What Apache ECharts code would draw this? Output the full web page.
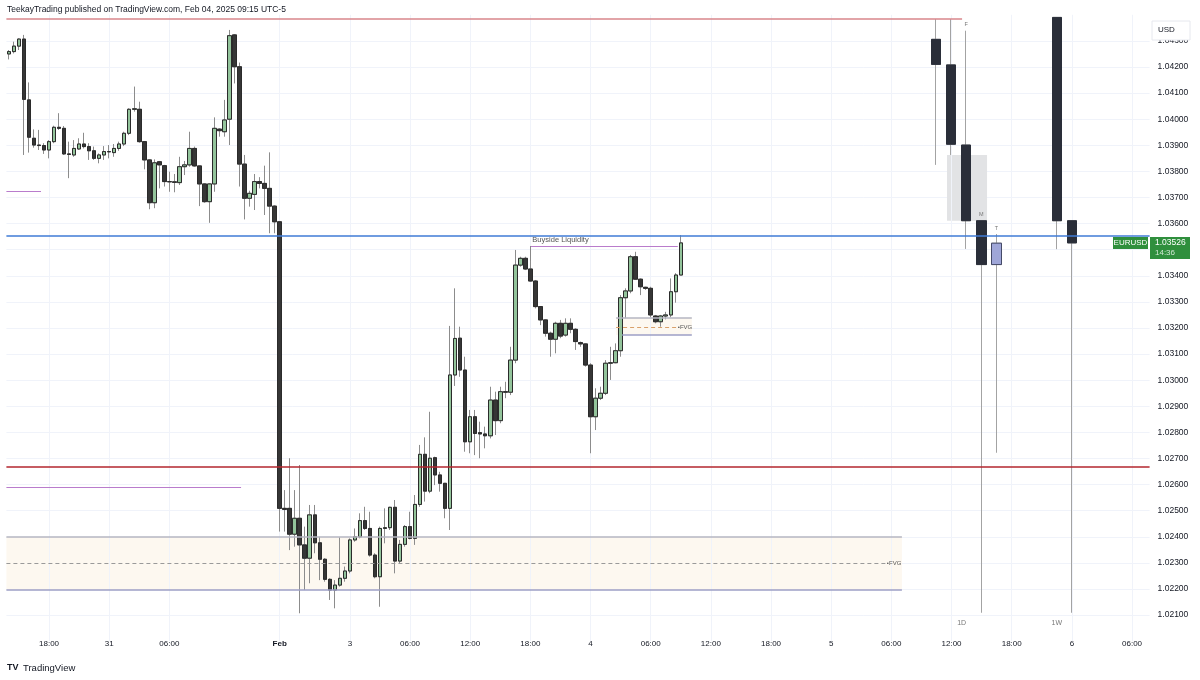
<!DOCTYPE html>
<html>
<head>
<meta charset="utf-8">
<title>EURUSD 30m</title>
<script src="https://cdn.jsdelivr.net/npm/echarts@6/dist/echarts.min.js"></script>
<style>
  html, body { margin: 0; padding: 0; background: #fff; }
  #chart { width: 1200px; height: 680px; }
</style>
</head>
<body>
<div id="chart"></div>
<script>
// 30 minute EURUSD candles, Jan 30 14:00 -> Feb 4 09:00 (UTC-5), [open, close, low, high]
var candles = [
  [1.04250,1.04259,1.04229,1.04265],[1.04259,1.04280,1.04252,1.04297],[1.04280,1.04307,1.04265,1.04310],
  [1.04307,1.04076,1.03863,1.04323],[1.04074,1.03931,1.03872,1.04141],[1.03927,1.03901,1.03891,1.03961],
  [1.03901,1.03899,1.03882,1.03959],[1.03899,1.03882,1.03867,1.03908],[1.03882,1.03914,1.03850,1.03920],
  [1.03914,1.03969,1.03908,1.03975],[1.03969,1.03965,1.03959,1.04023],[1.03965,1.03867,1.03863,1.03974],
  [1.03867,1.03865,1.03774,1.03914],[1.03863,1.03888,1.03856,1.03920],[1.03886,1.03905,1.03882,1.03927],
  [1.03905,1.03895,1.03888,1.03948],[1.03895,1.03879,1.03844,1.03908],[1.03879,1.03850,1.03844,1.03895],
  [1.03850,1.03863,1.03831,1.03869],[1.03863,1.03876,1.03844,1.03897],[1.03876,1.03875,1.03850,1.03901],
  [1.03872,1.03888,1.03856,1.03905],[1.03888,1.03905,1.03879,1.03914],[1.03905,1.03946,1.03897,1.03952],
  [1.03946,1.04038,1.03939,1.04042],[1.04038,1.04040,1.04029,1.04125],[1.04038,1.03914,1.03910,1.04067],
  [1.03914,1.03844,1.03808,1.03914],[1.03844,1.03680,1.03655,1.03846],[1.03680,1.03833,1.03659,1.03846],
  [1.03837,1.03825,1.03735,1.03840],[1.03822,1.03761,1.03742,1.03825],[1.03761,1.03760,1.03722,1.03799],
  [1.03760,1.03758,1.03720,1.03790],[1.03757,1.03818,1.03748,1.03856],[1.03818,1.03825,1.03786,1.03840],
  [1.03825,1.03888,1.03818,1.03952],[1.03888,1.03821,1.03818,1.03895],[1.03821,1.03752,1.03667,1.03822],
  [1.03752,1.03684,1.03680,1.03754],[1.03684,1.03752,1.03603,1.03754],[1.03752,1.03965,1.03722,1.04007],
  [1.03962,1.03956,1.03933,1.03965],[1.03952,1.03997,1.03933,1.04074],[1.04000,1.04320,1.03901,1.04342],
  [1.04323,1.04201,1.04137,1.04326],[1.04201,1.03828,1.03742,1.04217],[1.03828,1.03697,1.03616,1.03863],
  [1.03697,1.03716,1.03665,1.03726],[1.03712,1.03761,1.03652,1.03790],[1.03761,1.03754,1.03735,1.03778],
  [1.03754,1.03735,1.03633,1.03822],[1.03735,1.03667,1.03563,1.03873],[1.03667,1.03607,1.03563,1.03670],
  // Sunday open, Feb 2 17:00
  [1.03607,1.02509,1.02420,1.03610],[1.02509,1.02505,1.02420,1.02579],[1.02509,1.02410,1.02349,1.02701],
  [1.02410,1.02471,1.02362,1.02579],[1.02471,1.02369,1.02107,1.02675],[1.02369,1.02318,1.02196,1.02439],
  [1.02318,1.02484,1.02222,1.02522],[1.02484,1.02377,1.02337,1.02522],[1.02377,1.02314,1.02234,1.02400],
  [1.02314,1.02237,1.02228,1.02318],[1.02237,1.02196,1.02158,1.02241],[1.02196,1.02215,1.02126,1.02234],
  [1.02215,1.02241,1.02209,1.02398],[1.02241,1.02269,1.02228,1.02286],[1.02269,1.02388,1.02260,1.02394],
  [1.02388,1.02400,1.02381,1.02432],[1.02400,1.02462,1.02394,1.02490],[1.02462,1.02432,1.02426,1.02515],
  [1.02432,1.02330,1.02324,1.02496],[1.02330,1.02247,1.02241,1.02337],[1.02247,1.02432,1.02132,1.02439],
  [1.02432,1.02435,1.02375,1.02509],[1.02435,1.02513,1.02426,1.02515],[1.02513,1.02307,1.02260,1.02541],
  [1.02307,1.02371,1.02298,1.02388],[1.02371,1.02439,1.02362,1.02445],[1.02439,1.02394,1.02390,1.02496],
  [1.02394,1.02524,1.02369,1.02560],[1.02524,1.02716,1.02515,1.02752],[1.02716,1.02575,1.02535,1.02781],
  [1.02575,1.02701,1.02567,1.02879],[1.02703,1.02637,1.02598,1.02707],[1.02637,1.02605,1.02573,1.02649],
  [1.02605,1.02509,1.02471,1.02605],[1.02509,1.03020,1.02426,1.03208],[1.03020,1.03160,1.02978,1.03352],
  [1.03161,1.03039,1.03013,1.03205],[1.03039,1.02764,1.02726,1.03090],[1.02764,1.02860,1.02720,1.02886],
  [1.02860,1.02796,1.02713,1.02886],[1.02799,1.02794,1.02701,1.02841],[1.02794,1.02787,1.02739,1.02822],
  [1.02787,1.02924,1.02777,1.02975],[1.02924,1.02845,1.02790,1.02956],[1.02845,1.02956,1.02835,1.02975],
  [1.02956,1.02954,1.02931,1.02994],[1.02954,1.03077,1.02943,1.03128],[1.03077,1.03441,1.03065,1.03499],
  [1.03441,1.03467,1.03435,1.03473],[1.03467,1.03426,1.03422,1.03473],[1.03426,1.03380,1.03377,1.03453],
  [1.03380,1.03282,1.03275,1.03384],[1.03282,1.03231,1.03211,1.03284],[1.03231,1.03180,1.03167,1.03233],
  [1.03180,1.03157,1.03090,1.03186],[1.03157,1.03218,1.03103,1.03224],[1.03218,1.03169,1.03161,1.03231],
  [1.03173,1.03218,1.03167,1.03237],[1.03218,1.03195,1.03180,1.03237],[1.03195,1.03148,1.03116,1.03199],
  [1.03144,1.03139,1.03128,1.03148],[1.03139,1.03058,1.03052,1.03141],[1.03058,1.02860,1.02720,1.03065],
  [1.02860,1.02931,1.02809,1.02969],[1.02931,1.02950,1.02924,1.02975],[1.02950,1.03065,1.02943,1.03077],
  [1.03065,1.03067,1.03001,1.03128],[1.03067,1.03113,1.03065,1.03141],[1.03113,1.03316,1.03090,1.03326],
  [1.03316,1.03342,1.03237,1.03352],[1.03342,1.03473,1.03333,1.03480],[1.03473,1.03387,1.03384,1.03492],
  [1.03387,1.03358,1.03326,1.03390],[1.03356,1.03352,1.03346,1.03358],[1.03352,1.03250,1.03241,1.03358],
  [1.03246,1.03224,1.03218,1.03250],[1.03224,1.03246,1.03205,1.03250],[1.03246,1.03250,1.03233,1.03262],
  [1.03250,1.03339,1.03241,1.03390],[1.03339,1.03403,1.03297,1.03410],[1.03403,1.03526,1.03403,1.03556]
];

var slotCount = 228; // 30 minute slots incl. empty future space
var timeLabels = [[8,'18:00'],[20,'31'],[32,'06:00'],[54,'Feb'],[68,'3'],[80,'06:00'],[92,'12:00'],
  [104,'18:00'],[116,'4'],[128,'06:00'],[140,'12:00'],[152,'18:00'],[164,'5'],[176,'06:00'],
  [188,'12:00'],[200,'18:00'],[212,'6'],[224,'06:00']];

var priceMin = 1.020, priceMax = 1.044, priceStep = 0.001;
var lastPrice = 1.03526;
var countdown = '14:36';

// higher timeframe candles drawn on the right (5 daily, 2 weekly), [open, close, low, high]
var htfCandles = [
  [1.04306,1.04210,1.03825,1.04384],[1.04208,1.03904,1.03863,1.04384],[1.03901,1.03611,1.03503,1.04339],
  [1.03611,1.03443,1.02109,1.03611],[1.03443,1.03525,1.02722,1.03560],
  '-', '-', '-',
  [1.04390,1.03611,1.03502,1.04390],[1.03611,1.03526,1.02109,1.03611]
];
var htfDayLabels = [[2,'F'],[3,'M'],[4,'T']];
var htfGroupLabels = [[2.2,'1D'],[8.5,'1W']];
var htfGap = [1.23, 3.88, 1.03611, 1.03863];

// horizontal levels [price, fromSlot, toSlot]
var levelTopRed = [1.04384, 0, 190.6];
var levelBlue = [1.03553, 0, 228];
var levelRed = [1.02667, 0, 228];
var levelPurpleA = [1.03725, 0, 6.9];
var levelPurpleB = [1.02591, 0, 46.8];
var buyside = [1.03514, 104.5, 133.9, 1.03453];

// fair value gaps [top, bottom, mid, fromSlot, toSlot, midEnd]
var fvgBig = [1.02399, 1.02196, 1.02300, 0, 178.6, 175.4];
var fvgSmall = [1.03238, 1.03173, 1.03204, 121.6, 136.7, 133.7];

var font = 'Liberation Sans, Arial, sans-serif';

var slotNames = [];
var labelMap = {};
for (var i = 0; i < slotCount; i++) slotNames.push('s' + i);
timeLabels.forEach(function (t) { labelMap[t[0]] = t[1]; });
var htfNames = ['d0','d1','d2','d3','d4','d5','d6','d7','w0','w1'];

var bodies = candles.map(function (c) {
  return [c[0], c[1], Math.min(c[0], c[1]), Math.max(c[0], c[1])];
});
var htfBodies = htfCandles.map(function (c) {
  return c === '-' ? '-' : [c[0], c[1], Math.min(c[0], c[1]), Math.max(c[0], c[1])];
});

function seg(x1, x2, y, style, label) {
  return [{ coord: [x1, y], lineStyle: style, label: label || { show: false } }, { coord: [x2, y] }];
}

var gridLines = timeLabels.map(function (t) { return { xAxis: t[0] + 0.5 }; });

var thinPurple = { color: '#b97ccc', width: 1.2, type: 'solid' };
var boxTop = { color: '#b4b6c2', width: 1.5, type: 'solid' };
var boxBottom = { color: '#9c9fc6', width: 1.5, type: 'solid' };
var fvgLabel = { show: true, position: 'end', formatter: '•FVG', fontSize: 6, color: '#555', distance: 1, fontFamily: font };

var overlayLines = [
  seg(levelTopRed[1], levelTopRed[2], levelTopRed[0], { color: '#d9868b', width: 1.5, type: 'solid' }),
  seg(levelBlue[1], levelBlue[2], levelBlue[0], { color: '#3f7bd6', width: 1.5, type: 'solid' }),
  seg(levelRed[1], levelRed[2], levelRed[0], { color: '#b3262e', width: 1.5, type: 'solid' }),
  seg(levelPurpleA[1], levelPurpleA[2], levelPurpleA[0], thinPurple),
  seg(levelPurpleB[1], levelPurpleB[2], levelPurpleB[0], thinPurple),
  seg(buyside[1], buyside[2], buyside[0], thinPurple,
    { show: true, position: 'insideStartTop', formatter: 'Buyside Liquidity', fontSize: 7.5, color: '#555', distance: 2, fontFamily: font }),
  [{ coord: [buyside[1], buyside[0]], lineStyle: { color: '#888', width: 1, type: 'solid' }, label: { show: false } },
   { coord: [buyside[1], buyside[3]] }],
  seg(fvgBig[3], fvgBig[4], fvgBig[0], boxTop),
  seg(fvgBig[3], fvgBig[4], fvgBig[1], boxBottom),
  seg(fvgBig[3], fvgBig[5], fvgBig[2], { color: '#9a9a9a', width: 1, type: [4, 3] }, fvgLabel),
  seg(fvgSmall[3], fvgSmall[4], fvgSmall[0], boxTop),
  seg(fvgSmall[3] + 1.2, fvgSmall[4], fvgSmall[1], boxBottom),
  seg(fvgSmall[3], fvgSmall[5], fvgSmall[2], { color: '#d9a06a', width: 1, type: [4, 3] }, fvgLabel)
];

var hidden = { show: false };
var mainRect = { left: 6.4, right: 50.4, top: 14.8, bottom: 38.8 };
var htfRect = { left: 928.45, width: 151, top: 14.8, bottom: 38.8 };

var option = {
  animation: false,
  backgroundColor: '#ffffff',
  // grids 2 and 3 repeat 0 and 1 so the body layer is laid out on its own
  grid: [mainRect, htfRect, mainRect, htfRect],
  xAxis: [
    {
      type: 'category', gridIndex: 0, data: slotNames, boundaryGap: true,
      axisLine: hidden, axisTick: hidden, splitLine: hidden,
      axisLabel: {
        interval: function (idx) { return labelMap[idx] !== undefined; },
        formatter: function (v, idx) { var t = labelMap[idx]; return t === 'Feb' ? '{b|Feb}' : t; },
        margin: -1, fontSize: 8, color: '#131722', fontFamily: font,
        rich: { b: { fontWeight: 'bold', fontSize: 8, color: '#131722', fontFamily: font } }
      }
    },
    { type: 'value', gridIndex: 0, min: 0, max: slotCount, show: false },
    { type: 'category', gridIndex: 1, data: htfNames, show: false },
    { type: 'value', gridIndex: 1, min: 0, max: 10, show: false },
    { type: 'category', gridIndex: 2, data: slotNames, show: false },
    { type: 'category', gridIndex: 3, data: htfNames, show: false }
  ],
  yAxis: [
    {
      type: 'value', gridIndex: 0, position: 'right', min: priceMin, max: priceMax, interval: priceStep,
      axisLine: hidden, axisTick: hidden,
      axisLabel: { showMinLabel: false, showMaxLabel: false, margin: 8, fontSize: 8.5, color: '#131722',
        fontFamily: font, formatter: function (v) { return v.toFixed(5); } },
      splitLine: { show: true, showMinLine: false, showMaxLine: false, lineStyle: { color: '#f0f3fa', width: 1 } }
    },
    { type: 'value', gridIndex: 1, min: priceMin, max: priceMax, show: false },
    { type: 'value', gridIndex: 2, min: priceMin, max: priceMax, show: false },
    { type: 'value', gridIndex: 3, min: priceMin, max: priceMax, show: false }
  ],
  series: [
    {
      type: 'line', xAxisIndex: 1, yAxisIndex: 0, data: [[0, 1.03]], symbol: 'none',
      lineStyle: { opacity: 0 }, silent: true, z: 1,
      markArea: {
        silent: true, z: 1,
        itemStyle: { color: '#fdf8f0' },
        data: [
          [{ coord: [fvgBig[3], fvgBig[0]] }, { coord: [fvgBig[4], fvgBig[1]] }],
          [{ coord: [fvgSmall[3], fvgSmall[0]] }, { coord: [fvgSmall[4], fvgSmall[1]] }]
        ]
      },
      markLine: {
        silent: true, z: 1, symbol: ['none', 'none'], label: { show: false },
        lineStyle: { color: '#f0f3fa', width: 1, type: 'solid' },
        data: gridLines
      }
    },
    {
      type: 'line', xAxisIndex: 3, yAxisIndex: 1, data: [[0, 1.03]], symbol: 'none',
      lineStyle: { opacity: 0 }, silent: true, z: 1,
      markArea: {
        silent: true, z: 1, itemStyle: { color: '#e2e3e5' },
        data: [[{ coord: [htfGap[0], htfGap[3]] }, { coord: [htfGap[1], htfGap[2]] }]]
      }
    },
    {
      type: 'candlestick', xAxisIndex: 0, yAxisIndex: 0, data: candles, barWidth: 4, z: 3, silent: true,
      itemStyle: { color: '#93c49b', color0: '#3a3a3a', borderColor: '#8c8c8c', borderColor0: '#8c8c8c', borderWidth: 1 }
    },
    {
      type: 'candlestick', xAxisIndex: 4, yAxisIndex: 2, data: bodies, barWidth: 4, z: 4, silent: true,
      itemStyle: { color: '#93c49b', color0: '#363636', borderColor: '#2b2b2b', borderColor0: '#2b2b2b', borderWidth: 1 }
    },
    {
      type: 'candlestick', xAxisIndex: 2, yAxisIndex: 1, data: htfCandles, barWidth: 10, z: 3, silent: true,
      itemStyle: { color: '#9fa6d8', color0: '#2a2e39', borderColor: '#a3a3a3', borderColor0: '#a3a3a3', borderWidth: 1 }
    },
    {
      type: 'candlestick', xAxisIndex: 5, yAxisIndex: 3, data: htfBodies, barWidth: 10, z: 4, silent: true,
      itemStyle: { color: '#9fa6d8', color0: '#2a2e39', borderColor: '#454a68', borderColor0: '#2a2e39', borderWidth: 1 }
    },
    {
      type: 'line', xAxisIndex: 1, yAxisIndex: 0, data: [[0, 1.03]], symbol: 'none',
      lineStyle: { opacity: 0 }, silent: true, z: 6,
      markLine: { silent: true, z: 6, symbol: ['none', 'none'], data: overlayLines }
    },
    {
      type: 'line', xAxisIndex: 3, yAxisIndex: 1, data: [[0, 1.03]], symbol: 'none',
      lineStyle: { opacity: 0 }, silent: true, z: 6,
      markPoint: {
        silent: true, z: 6, symbolSize: 0,
        data: htfDayLabels.map(function (d) {
          return { coord: [d[0] + 0.5, htfCandles[d[0]][3]], label: { show: true, position: 'top', distance: 3,
            formatter: d[1], fontSize: 5.5, color: '#777', fontFamily: font } };
        }).concat(htfGroupLabels.map(function (d) {
          return { coord: [d[0], priceMin + 0.0007], label: { show: true, position: 'inside',
            formatter: d[1], fontSize: 7, color: '#777', fontFamily: font } };
        }))
      }
    }
  ],
  graphic: []
};

var chart = echarts.init(document.getElementById('chart'));
chart.setOption(option);

var yLast = chart.convertToPixel({ yAxisIndex: 0 }, lastPrice);
chart.setOption({
  graphic: [
    { type: 'text', left: 7, top: 5, style: { text: 'TeekayTrading published on TradingView.com, Feb 04, 2025 09:15 UTC-5',
      fontSize: 8.5, fill: '#131722', fontFamily: font } },
    { type: 'rect', shape: { x: 1152, y: 21, width: 38, height: 19 }, style: { fill: '#fff', stroke: '#e6e8ee' }, z: 20 },
    { type: 'text', x: 1158, y: 30, style: { text: 'USD', fontSize: 8, fill: '#131722', fontFamily: font, verticalAlign: 'middle' }, z: 21 },
    { type: 'rect', shape: { x: 1113, y: yLast - 6, width: 35, height: 12 }, style: { fill: '#2f8f3d' }, z: 20 },
    { type: 'text', x: 1130.5, y: yLast, style: { text: 'EURUSD', fontSize: 8, fill: '#fff', fontFamily: font,
      align: 'center', verticalAlign: 'middle' }, z: 21 },
    { type: 'rect', shape: { x: 1150, y: yLast - 6, width: 40, height: 22 }, style: { fill: '#2f8f3d' }, z: 20 },
    { type: 'text', x: 1155, y: yLast, style: { text: lastPrice.toFixed(5), fontSize: 8.5, fill: '#fff', fontFamily: font,
      verticalAlign: 'middle' }, z: 21 },
    { type: 'text', x: 1155, y: yLast + 10, style: { text: countdown, fontSize: 8, fill: '#cfe8d2', fontFamily: font,
      verticalAlign: 'middle' }, z: 21 },
    { type: 'text', x: 7, y: 668, style: { text: 'TV', fontSize: 9, fontWeight: 900, fill: '#131722', fontFamily: font,
      verticalAlign: 'middle' } },
    { type: 'text', x: 23, y: 668, style: { text: 'TradingView', fontSize: 9.5, fill: '#131722', fontFamily: font,
      verticalAlign: 'middle' } }
  ]
});
</script>
</body>
</html>
